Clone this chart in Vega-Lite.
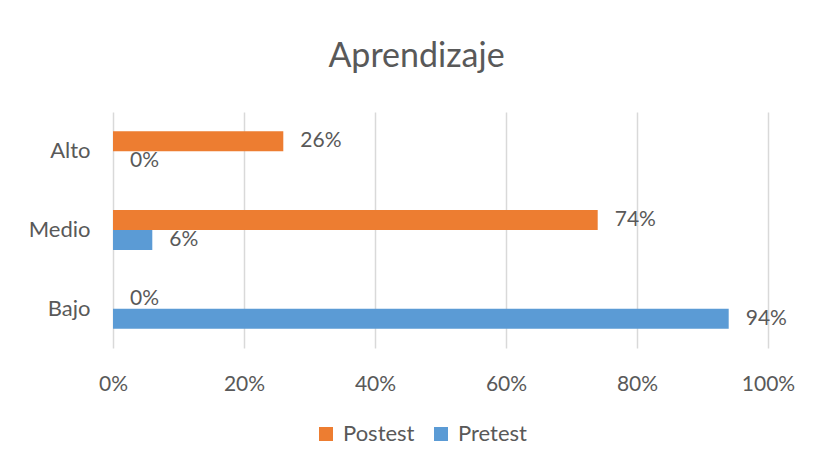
{
  "$schema": "https://vega.github.io/schema/vega-lite/v6.json",
  "width": 655,
  "height": 236,
  "autosize": "none",
  "padding": {"left": 113, "top": 112, "right": 48, "bottom": 115},
  "background": "white",
  "title": {
    "text": "Aprendizaje",
    "fontSize": 34,
    "font": "Lato",
    "fontWeight": "normal",
    "color": "#595959",
    "anchor": "middle",
    "dx": -24,
    "offset": 38
  },
  "data": {
    "values": [
      {"nivel": "Alto", "prueba": "Postest", "valor": 0.26},
      {"nivel": "Alto", "prueba": "Pretest", "valor": 0.0},
      {"nivel": "Medio", "prueba": "Postest", "valor": 0.74},
      {"nivel": "Medio", "prueba": "Pretest", "valor": 0.06},
      {"nivel": "Bajo", "prueba": "Postest", "valor": 0.0},
      {"nivel": "Bajo", "prueba": "Pretest", "valor": 0.94}
    ]
  },
  "encoding": {
    "y": {
      "field": "nivel",
      "type": "nominal",
      "sort": ["Alto", "Medio", "Bajo"],
      "scale": {"paddingInner": 0.49, "paddingOuter": 0.245},
      "axis": {
        "title": null,
        "domain": false,
        "ticks": false,
        "labelPadding": 23,
        "labelFontSize": 22,
        "labelFont": "Lato",
        "labelColor": "#595959"
      }
    },
    "yOffset": {
      "field": "prueba",
      "type": "nominal",
      "sort": ["Postest", "Pretest"],
      "scale": {"paddingInner": 0, "paddingOuter": 0}
    },
    "x": {
      "field": "valor",
      "type": "quantitative",
      "scale": {"domain": [0, 1], "nice": false},
      "axis": {
        "title": null,
        "format": ".0%",
        "values": [0, 0.2, 0.4, 0.6, 0.8, 1],
        "domain": false,
        "ticks": false,
        "grid": true,
        "gridColor": "#D9D9D9",
        "gridWidth": 1.5,
        "labelFlush": false,
        "labelPadding": 25,
        "labelFontSize": 21,
        "labelFont": "Lato",
        "labelColor": "#595959"
      }
    }
  },
  "layer": [
    {
      "mark": {"type": "bar"},
      "encoding": {
        "color": {
          "field": "prueba",
          "type": "nominal",
          "scale": {"domain": ["Postest", "Pretest"], "range": ["#ED7D31", "#5B9BD5"]},
          "legend": {
            "title": null,
            "orient": "none",
            "direction": "horizontal",
            "legendX": 202,
            "legendY": 311,
            "symbolType": "square",
            "symbolSize": 196,
            "symbolStrokeWidth": 0,
            "labelFontSize": 22,
            "labelFont": "Lato",
            "labelColor": "#595959",
            "labelOffset": 6,
            "columnPadding": 15
          }
        }
      }
    },
    {
      "mark": {"type": "text", "align": "left", "baseline": "middle", "dx": 17, "fontSize": 21, "font": "Lato", "color": "#595959"},
      "encoding": {
        "text": {"field": "valor", "type": "quantitative", "format": ".0%"}
      }
    }
  ],
  "config": {"view": {"stroke": null}}
}
